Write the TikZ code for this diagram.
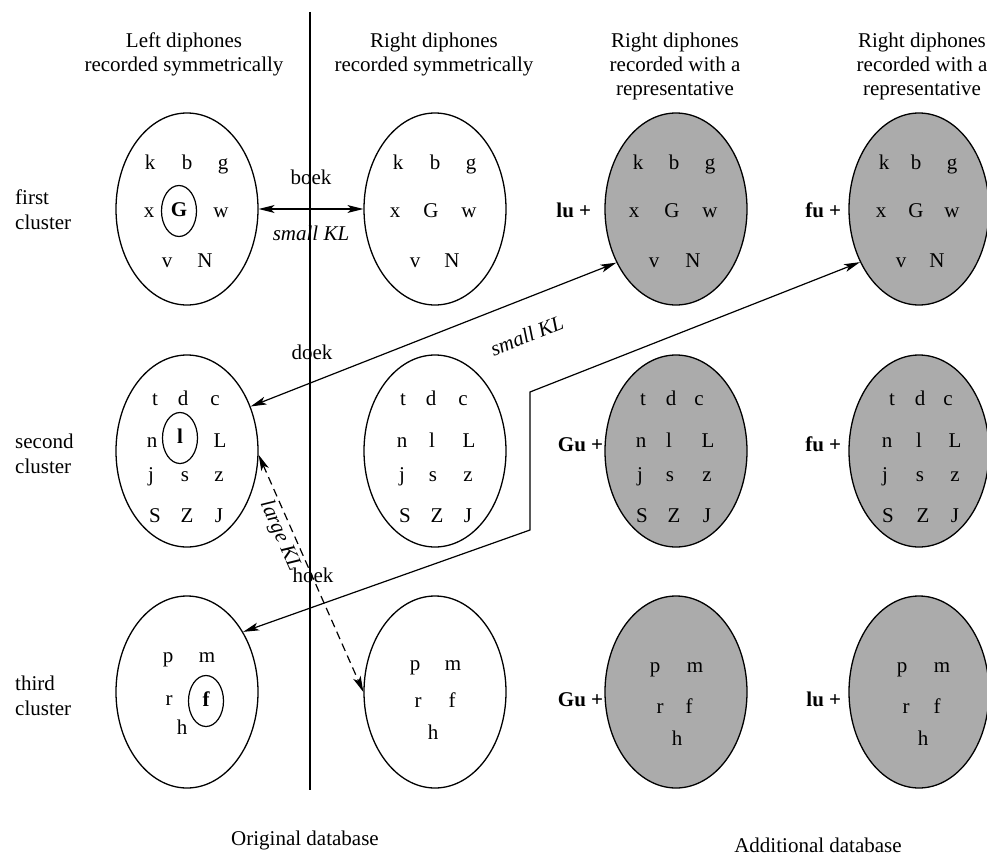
\documentclass[tikz,border=0pt]{standalone}
\usepackage{fontspec}
\setmainfont{Liberation Serif}
\usetikzlibrary{shapes.geometric,arrows.meta}
\newcommand\putlets[2]{%
  \foreach \ch/\dx/\dy in {#2}{%
    \node[lt] (#1-\ch) at ([shift={(\dx,\dy)}]#1.center) {\ch};}}
\begin{document}
\begin{tikzpicture}[x=1pt,y=-1pt,
  every node/.style={font=\fontsize{21}{24}\selectfont},
  clu/.style={draw, line width=1.3pt, ellipse, minimum width=142pt, minimum height=192pt, inner sep=0pt},
  shd/.style={clu, fill=black!33},
  lt/.style={inner sep=0pt, text height=11pt, text depth=0pt},
  rep/.style={draw, line width=1.2pt, ellipse, minimum width=35pt, minimum height=51pt, inner sep=0pt, text height=11pt, text depth=0pt, font=\fontsize{21}{24}\selectfont\bfseries},
  pre/.style={inner sep=0pt, text height=11pt, text depth=0pt, font=\fontsize{21}{24}\selectfont\bfseries},
  hdr/.style={align=center, anchor=north, inner sep=0pt},
  rowlab/.style={align=left, anchor=north west, inner sep=0pt, font=\fontsize{21}{25}\selectfont},
  conn/.style={line width=1.2pt, {Stealth[length=16pt,width=8pt,inset=4pt]}-{Stealth[length=16pt,width=8pt,inset=4pt]}},
  lbl/.style={inner sep=0pt},
]
\useasboundingbox (0,0) rectangle (987,859);

% headers
\node[hdr] (h1) at (184,33) {Left diphones\\recorded symmetrically};
\node[hdr] (h2) at (434,33) {Right diphones\\recorded symmetrically};
\node[hdr] (h3) at (675,33) {Right diphones\\recorded with a\\representative};
\node[hdr] (h4) at (922,33) {Right diphones\\recorded with a\\representative};

% row labels
\node[rowlab] (r1) at (15,190) {first\\cluster};
\node[rowlab] (r2) at (15,434) {second\\cluster};
\node[rowlab] (r3) at (15,676) {third\\cluster};

% vertical separator
\coordinate (vtop) at (310,12);
\coordinate (vbot) at (310,790);
\draw[line width=1.2pt] (vtop) -- (vbot);

% clusters
\node[clu] (e11) at (187,209) {};
\node[clu] (e12) at (435,209) {};
\node[shd] (e13) at (676,209) {};
\node[shd, minimum width=140pt] (e14) at (919,209) {};
\node[clu] (e21) at (187,451) {};
\node[clu] (e22) at (435,451) {};
\node[shd] (e23) at (676,451) {};
\node[shd, minimum width=140pt] (e24) at (919,451) {};
\node[clu] (e31) at (187,692) {};
\node[clu] (e32) at (435,692) {};
\node[shd] (e33) at (676,692) {};
\node[shd, minimum width=140pt] (e34) at (919,692) {};

% first cluster letters
\putlets{e11}{k/-37/-45, b/0/-45, g/36/-45, x/-38/3, w/34/3, v/-20/53, N/18/53}
\node[rep] (e11-G) at ([shift={(-8,2)}]e11.center) {G};
\putlets{e12}{k/-37/-45, b/0/-45, g/36/-45, x/-40/3, G/-4/3, w/34/3, v/-20/53, N/17/53}
\putlets{e13}{k/-38/-45, b/-2/-45, g/34/-45, x/-42/3, G/-4/3, w/34/3, v/-22/53, N/17/53}
\putlets{e14}{k/-35/-45, b/-3/-45, g/33/-45, x/-38/3, G/-3/3, w/33/3, v/-18/53, N/18/53}

% second cluster letters
\putlets{e21}{t/-32/-51, d/-4/-51, c/28/-51, n/-35/-9, L/33/-9, j/-36/25, s/-2/25, z/32/25, S/-32/66, Z/0/66, J/32/66}
\node[rep] (e21-l) at ([shift={(-7,-13)}]e21.center) {l};
\putlets{e22}{t/-32/-51, d/-4/-51, c/28/-51, n/-33/-9, l/-3/-9, L/34/-9, j/-33/25, s/-2/25, z/33/25, S/-30/66, Z/2/66, J/33/66}
\putlets{e23}{t/-33/-51, d/-5/-51, c/23/-51, n/-35/-9, l/-7/-9, L/32/-9, j/-36/25, s/-6/25, z/31/25, S/-34/66, Z/-2/66, J/31/66}
\putlets{e24}{t/-27/-51, d/1/-51, c/29/-51, n/-32/-9, l/0/-9, L/36/-9, j/-34/25, s/1/25, z/36/25, S/-31/66, Z/4/66, J/36/66}

% third cluster letters
\putlets{e31}{p/-19/-35, m/20/-35, r/-18/8, h/-5/37}
\node[rep] (e31-f) at ([shift={(19,9)}]e31.center) {f};
\putlets{e32}{p/-20/-27, m/18/-27, r/-17/10, f/17/10, h/-2/42}
\putlets{e33}{p/-21/-25, m/19/-25, r/-16/16, f/13/16, h/1/48}
\putlets{e34}{p/-17/-25, m/23/-25, r/-13/16, f/18/16, h/4/48}

% prefixes
\node[pre, anchor=east] (p13) at ([shift={(-13,3)}]e13.west) {lu +};
\node[pre, anchor=east] (p14) at ([shift={(-7,3)}]e14.west) {fu +};
\node[pre, anchor=east] (p23) at ([shift={(-1,-5)}]e23.west) {Gu +};
\node[pre, anchor=east] (p24) at ([shift={(-7,-5)}]e24.west) {fu +};
\node[pre, anchor=east] (p33) at ([shift={(-1,9)}]e33.west) {Gu +};
\node[pre, anchor=east] (p34) at ([shift={(-7,9)}]e34.west) {lu +};

% connectors
\draw[conn] (e11.east) -- node[lbl, above=24pt] (boek) {boek}
                          node[lbl, below=16pt] (skl1) {\itshape small KL} (e12.west);
\draw[conn] (e21.35) -- node[lbl, sloped, pos=0.72, below=27pt] (skl2) {\itshape small KL} (e13.222);
\coordinate (k1) at (530,392);
\coordinate (k2) at (530,530);
\draw[conn] (e14.222) -- (k1) -- (k2) -- (e31.47);
\draw[conn, dash pattern=on 8pt off 5pt] (e21.-3) -- node[sloped, pos=0.32, below, inner sep=3pt] (lkl) {\itshape large KL} (e32.west);

\node[lbl] (doek) at (312,352) {doek};
\node[lbl] (hoek) at (313,575) {hoek};

% bottom captions
\node[lbl] (orig) at (305,840) {Original database};
\node[lbl] (addi) at (818,845) {Additional database};
\end{tikzpicture}
\end{document}
